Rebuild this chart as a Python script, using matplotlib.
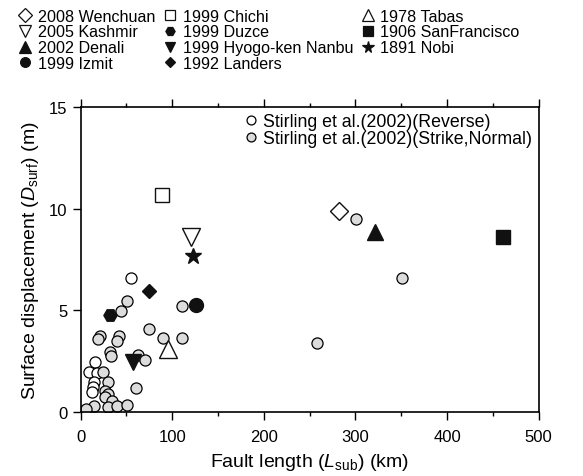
import matplotlib.pyplot as plt
from matplotlib.lines import Line2D
from matplotlib.ticker import MultipleLocator

plt.rcParams["font.family"] = ["Liberation Sans", "DejaVu Sans"]
plt.rcParams["mathtext.fontset"] = "custom"
plt.rcParams["mathtext.rm"] = "Liberation Sans"
plt.rcParams["mathtext.it"] = "Liberation Sans:italic"

# Stirling et al. (2002) compilation
rev_len = [55.3, 15.6, 9.4, 17.5, 14.5, 13.1, 12.0]
rev_disp = [6.6, 2.48, 1.95, 1.92, 1.46, 1.21, 0.97]

ss_len = [21.2, 19.3, 42.2, 39.3, 32.0, 32.8, 24.0, 30.1, 26.5, 30.1, 26.5, 33.9,
          14.5, 5.8, 30.1, 40.0, 50.2, 50.6, 44.4, 74.6, 90.2, 110.3, 110.3,
          62.9, 70.2, 60.1, 300.7, 350.6, 257.7]
ss_disp = [3.75, 3.59, 3.75, 3.51, 2.94, 2.77, 1.98, 1.49, 1.05, 0.89, 0.72, 0.56,
           0.28, 0.15, 0.23, 0.31, 0.34, 5.48, 4.99, 4.08, 3.67, 3.67, 5.2,
           2.8, 2.57, 1.17, 9.5, 6.59, 3.38]

# individual earthquakes
eq_names = ["2008 Wenchuan", "2005 Kashmir", "2002 Denali", "1999 Izmit",
            "1999 Chichi", "1999 Duzce", "1999 Hyogo-ken Nanbu", "1992 Landers",
            "1978 Tabas", "1906 SanFrancisco", "1891 Nobi"]
eq_len = [282, 120, 321, 126, 89, 31.5, 56.6, 74.3, 95, 460.5, 122.3]
eq_disp = [9.9, 8.6, 8.84, 5.28, 10.7, 4.8, 2.45, 5.97, 3.08, 8.6, 7.7]
eq_marker = ["D", "v", "^", "o", "s", "H", "v", "D", "^", "s", "*"]
eq_filled = [False, False, True, True, False, True, True, True, False, True, True]
eq_size = [9.5, 13, 12, 10, 9.5, 9.5, 11, 7.5, 13, 9.5, 12]

fig = plt.figure(figsize=(5.83, 4.77), dpi=100)
ax = fig.add_axes([0.1384, 0.134, 0.7856, 0.639])

h_rev = ax.plot(rev_len, rev_disp, "o", ms=8, mfc="white", mec="black",
                mew=0.9, ls="none", label="Stirling et al.(2002)(Reverse)")[0]
h_ss = ax.plot(ss_len, ss_disp, "o", ms=8, mfc="#dcdcdc", mec="black",
               mew=0.9, ls="none", label="Stirling et al.(2002)(Strike,Normal)")[0]

eq_handles = []
for name, x, y, m, f, s in zip(eq_names, eq_len, eq_disp, eq_marker, eq_filled, eq_size):
    fc = "#111111" if f else "white"
    ax.plot([x], [y], m, ms=s, mfc=fc, mec="#111111", mew=1.0, ls="none", zorder=4)
    eq_handles.append(Line2D([], [], marker=m, ms=s * 0.7, mfc=fc, mec="#111111",
                             mew=0.9, ls="none", label=name))

ax.set_xlim(0, 500)
ax.set_ylim(0, 15)
ax.xaxis.set_major_locator(MultipleLocator(100))
ax.xaxis.set_minor_locator(MultipleLocator(50))
ax.yaxis.set_major_locator(MultipleLocator(5))
ax.tick_params(axis="both", which="major", direction="out", length=6, width=1,
               labelsize=12, top=True, labeltop=False)
ax.tick_params(axis="x", which="major", pad=6)
ax.tick_params(axis="x", which="minor", direction="out", length=3, width=1, top=True)
for sp in ax.spines.values():
    sp.set_linewidth(1.2)

ax.set_xlabel(r"Fault length ($L_{\mathrm{sub}}$) (km)", fontsize=14, labelpad=5)
ax.set_ylabel(r"Surface displacement ($D_{\mathrm{surf}}$) (m)", fontsize=14,
              labelpad=6)

ax.legend(handles=[h_rev, h_ss], loc="upper right", frameon=False, fontsize=12.8,
          handlelength=0.6, handletextpad=0.35, borderaxespad=0.0,
          labelspacing=0.0, markerscale=0.8, bbox_to_anchor=(1.0, 1.005))

fig.legend(handles=eq_handles, ncol=3, loc="upper left",
           bbox_to_anchor=(0.015, 1.0), frameon=False, fontsize=11.6,
           handlelength=0.8, handletextpad=0.4, columnspacing=0.5,
           labelspacing=0.05, borderaxespad=0.2)

fig.savefig("out.png", dpi=100)
